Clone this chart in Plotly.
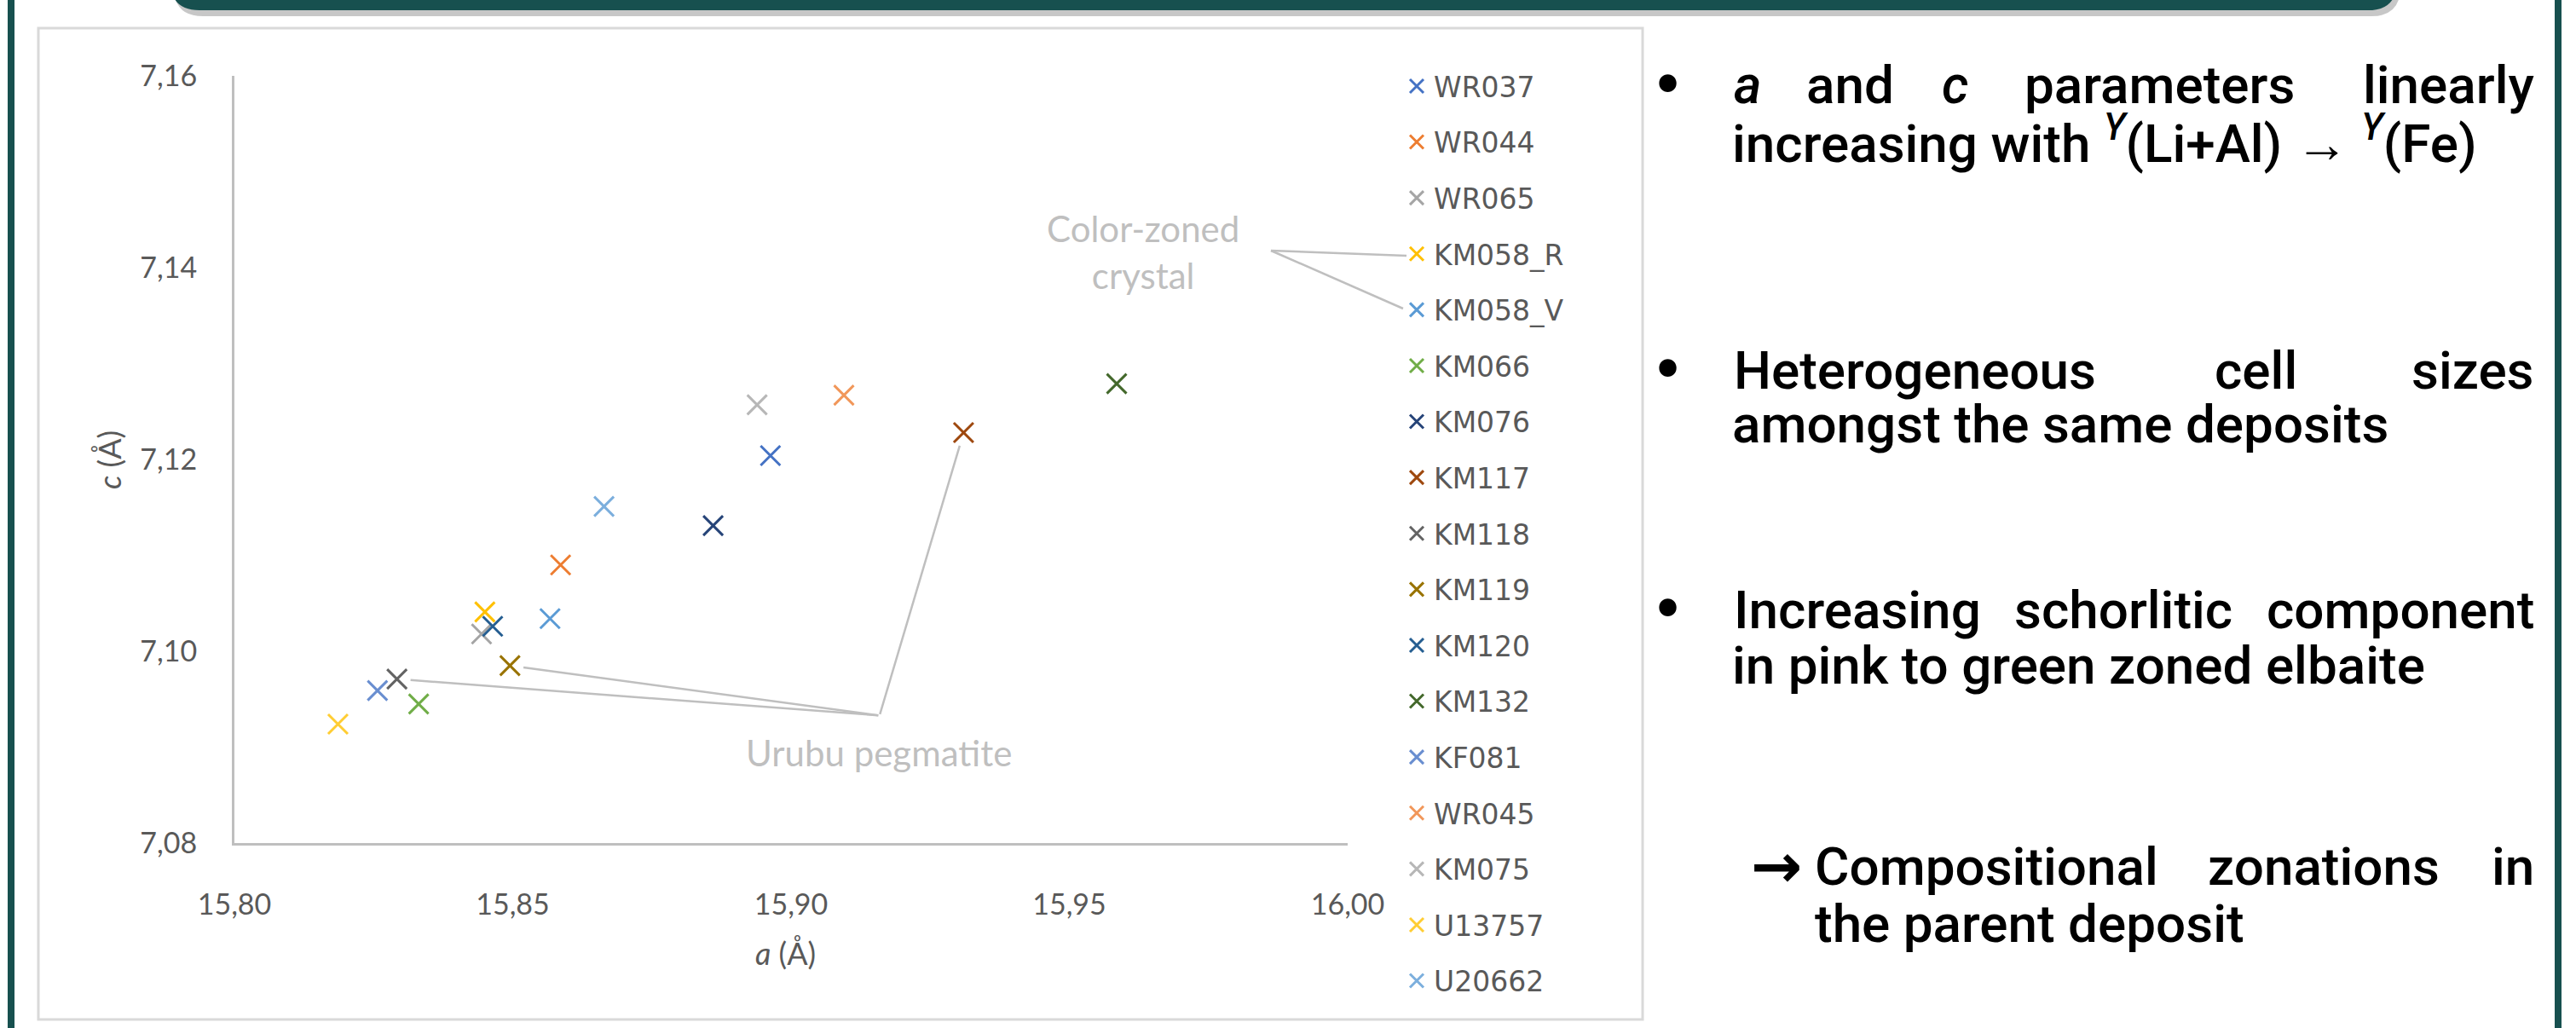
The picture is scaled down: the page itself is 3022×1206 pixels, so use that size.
import plotly.graph_objects as go

W, H = 3022, 1206

# ---------------- data ----------------
samples = ["WR037", "WR044", "WR065", "KM058_R", "KM058_V", "KM066", "KM076", "KM117",
           "KM118", "KM119", "KM120", "KM132", "KF081", "WR045", "KM075", "U13757", "U20662"]
a_values = [15.8963, 15.8586, 15.8444, 15.8450, 15.8567, 15.8331, 15.8860, 15.9310,
            15.8292, 15.8495, 15.8464, 15.9585, 15.8257, 15.9095, 15.8939, 15.8186, 15.8664]
c_values = [7.1204, 7.1090, 7.1018, 7.1041, 7.1034, 7.0945, 7.1131, 7.1228,
            7.0971, 7.0985, 7.1026, 7.1279, 7.0959, 7.1267, 7.1257, 7.0924, 7.1151]
colors = ["#4472C4", "#ED7D31", "#A5A5A5", "#FFC000", "#5B9BD5", "#70AD47", "#264478", "#9E480E",
          "#636363", "#997300", "#255E91", "#43682B", "#698ED0", "#F1975A", "#B7B7B7", "#FFCD33", "#7CAFDD"]
urubu_samples = ["KM117", "KM119", "KM118"]
urubu_junction = (15.9159, 7.0933)
x_ticks = [15.80, 15.85, 15.90, 15.95, 16.00]
y_ticks = [7.08, 7.10, 7.12, 7.14, 7.16]

TEAL = "#17504F"
GRID = "#BFBFBF"
TXT = "#595959"

def px(x):
    return x / W

def py(y):
    return 1 - y / H

fig = go.Figure()
for name, a, c, col in zip(samples, a_values, c_values, colors):
    fig.add_trace(go.Scatter(
        x=[a], y=[c], mode="markers", name=name, legendgroup=name,
        marker=dict(symbol="x-thin-open", size=23, color=col, line=dict(color=col, width=3)),
    ))

annotations = []
# Urubu pegmatite leader lines
for s in urubu_samples:
    i = samples.index(s)
    annotations.append(dict(
        x=a_values[i], y=c_values[i], xref="x", yref="y",
        ax=urubu_junction[0], ay=urubu_junction[1], axref="x", ayref="y",
        text="", showarrow=True, arrowhead=0, arrowwidth=2.5, arrowcolor=GRID,
        standoff=16,
    ))

def label(x, y, t, font, angle=0):
    annotations.append(dict(x=px(x), y=py(y), xref="paper", yref="paper", text=t,
                            xanchor="center", yanchor="middle", textangle=angle,
                            showarrow=False, font=font))

label(1031, 883, "Urubu pegmatite", dict(family="Lato", size=42, color=GRID))
label(1341, 295, "Color-zoned<br>crystal", dict(family="Lato", size=42, color=GRID))
# axis titles
label(128, 540, "<i>c</i> (Å)", dict(family="Lato", size=36, color=TXT), angle=-90)
label(921, 1118, "<i>a</i> (Å)", dict(family="Lato", size=36, color=TXT))

# ---------------- right text panel ----------------
BF = dict(family="Roboto", size=62, color="#000000", weight=500)

def word(x, y, t, anchor, font=None):
    annotations.append(dict(x=px(x), y=py(y), xref="paper", yref="paper", text=t,
                            xanchor=anchor, yanchor="middle", showarrow=False, font=font or BF))

def justified(y, words):
    # words: list of (text, x_left, x_right)
    n = len(words)
    for k, (t, xl, xr) in enumerate(words):
        if k == 0:
            word(xl, y, t, "left")
        elif k == n - 1:
            word(xr, y, t, "right")
        else:
            word((xl + xr) / 2, y, t, "center")

BULLET = dict(family="DejaVu Sans", size=58, color="#000000", weight=700)
for yb in (100, 434, 715):
    word(1956, yb, "•", "center", BULLET)

justified(100, [("<i>a</i>", 2032, 2061), ("and", 2122, 2218), ("<i>c</i>", 2279, 2308),
                ("parameters", 2369, 2698), ("linearly", 2762, 2975)])
word(2030, 164, "increasing with <sup><i>Y</i></sup>(Li+Al) → <sup><i>Y</i></sup>(Fe)", "left")
justified(434, [("Heterogeneous", 2032, 2462), ("cell", 2598, 2694), ("sizes", 2827, 2975)])
word(2030, 497, "amongst the same deposits", "left")
justified(715, [("Increasing", 2032, 2322), ("schorlitic", 2362, 2619), ("component", 2658, 2975)])
word(2030, 780, "in pink to green zoned elbaite", "left")
word(2084, 1016, "→", "center", dict(family="DejaVu Sans", size=72, color="#000000", weight=700))
justified(1016, [("Compositional", 2127, 2530), ("zonations", 2590, 2862), ("in", 2923, 2975)])
word(2127, 1083, "the parent deposit", "left")

# ---------------- shapes (frame, header, chart border, leader lines) ----------------
shapes = []
shapes.append(dict(type="rect", xref="paper", yref="paper", x0=px(9), x1=px(17), y0=0, y1=1,
                   fillcolor=TEAL, line=dict(width=0), layer="below"))
shapes.append(dict(type="rect", xref="paper", yref="paper", x0=px(2997), x1=px(3005), y0=0, y1=1,
                   fillcolor=TEAL, line=dict(width=0), layer="below"))

def header_path(x0, x1, yb, r, dx=0, dy=0):
    x0 += dx; x1 += dx; yb += dy
    top = -40
    pts = [
        f"M {px(x0)},{py(top)}",
        f"L {px(x0)},{py(yb - r)}",
        f"Q {px(x0)},{py(yb)} {px(x0 + r)},{py(yb)}",
        f"L {px(x1 - r)},{py(yb)}",
        f"Q {px(x1)},{py(yb)} {px(x1)},{py(yb - r)}",
        f"L {px(x1)},{py(top)} Z",
    ]
    return " ".join(pts)

shapes.append(dict(type="path", xref="paper", yref="paper", path=header_path(200, 2812, 14, 34, 4, 5),
                   fillcolor="rgba(0,0,0,0.22)", line=dict(width=0), layer="below"))
shapes.append(dict(type="path", xref="paper", yref="paper", path=header_path(200, 2812, 12, 34),
                   fillcolor=TEAL, line=dict(width=0), layer="below"))
shapes.append(dict(type="rect", xref="paper", yref="paper", x0=px(45), x1=px(1927), y0=py(1196), y1=py(33),
                   fillcolor="rgba(0,0,0,0)", line=dict(color="#D9D9D9", width=3), layer="below"))
for (xe, ye) in [(1650, 300), (1646, 362)]:
    shapes.append(dict(type="line", xref="paper", yref="paper", x0=px(1491), y0=py(294),
                       x1=px(xe), y1=py(ye), line=dict(color=GRID, width=2.5)))

fig.update_layout(
    width=W, height=H, autosize=False,
    margin=dict(l=0, r=0, t=0, b=0, pad=0, autoexpand=False),
    paper_bgcolor="white", plot_bgcolor="white",
    separators=",.",
    showlegend=True,
    legend=dict(x=px(1642), y=py(73), xanchor="left", yanchor="top",
                font=dict(family="DejaVu Sans", size=33, color=TXT),
                tracegroupgap=19.7, bgcolor="rgba(0,0,0,0)", itemwidth=30),
    xaxis=dict(domain=[px(275), px(1581)], range=[15.80, 16.00], tickvals=x_ticks, tickformat=".2f",
               showline=True, linecolor=GRID, linewidth=3, showgrid=False, zeroline=False, ticks="",
               ticklabelstandoff=40, tickfont=dict(family="Lato", size=34, color=TXT)),
    yaxis=dict(domain=[py(989), py(89)], range=[7.08, 7.16], tickvals=y_ticks, tickformat=".2f",
               showline=True, linecolor=GRID, linewidth=3, showgrid=False, zeroline=False, ticks="",
               ticklabelstandoff=34, tickfont=dict(family="Lato", size=34, color=TXT)),
    annotations=annotations,
    shapes=shapes,
)

fig.write_html("out.html", config={"displayModeBar": False},
               post_script="document.body.style.margin='0';document.body.style.overflow='hidden';")
